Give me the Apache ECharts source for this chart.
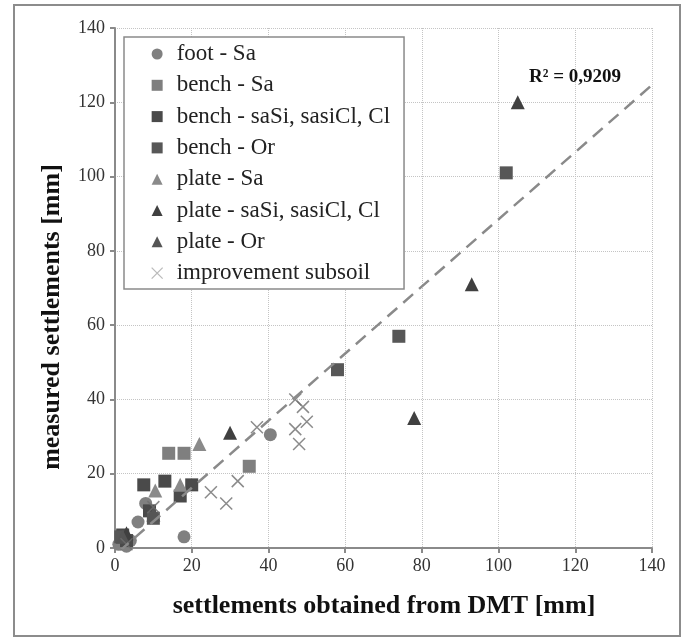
<!DOCTYPE html>
<html>
<head>
<meta charset="utf-8">
<script src="https://cdn.jsdelivr.net/npm/echarts@6/dist/echarts.min.js"></script>
<style>
html,body{margin:0;padding:0;background:#fff;}
#chart{width:684px;height:639px;}
</style>
</head>
<body>
<div id="chart"></div>
<script>
// ---- data ----
const footSa = [[1,1],[2,2.5],[4,2],[6,7],[8,12],[18,3],[40.5,30.5],[3,0.5]];
const benchSa = [[14,25.5],[18,25.5],[35,22],[2,3]];
const benchSaSi = [[7.5,17],[13,18],[17,14],[9,10],[20,17],[2,3.5],[3,2]];
const benchOr = [[58,48],[74,57],[102,101],[10,8],[1.5,3]];
const plateSa = [[22,28],[10.5,15.5],[17,17]];
const plateSaSi = [[30,31],[105,120],[93,71],[78,35],[3,4]];
const plateOr = [[2,3],[10,9]];
const improvement = [[47,40],[49,38],[50,34],[47,32],[48,28],[37,32.5],[32,18],[25,15],[29,12],[10,11],[3,1]];
const trendSlope = 0.904;
const trendIntercept = -1.9;
const trendRange = [1, 140];
const r2Label = 'R² = 0,9209';
const xTitle = 'settlements obtained from DMT [mm]';
const yTitle = 'measured settlements [mm]';
const axisMin = 0, axisMax = 140, axisStep = 20;

const trendData = trendRange.map(x => [x, trendSlope * x + trendIntercept]);
const crossPath = 'path://M0,0L10,10M10,0L0,10';
const serif = '"Liberation Serif", "Times New Roman", serif';

const chart = echarts.init(document.getElementById('chart'));
function sc(name, data, symbol, color, size) {
  return {
    name, type: 'scatter', data, symbol, symbolSize: size,
    itemStyle: { color: color, opacity: 1 }, z: 3
  };
}
chart.setOption({
  animation: false,
  backgroundColor: '#fff',
  grid: { left: 115, right: 32, top: 28, bottom: 91, containLabel: false },
  xAxis: {
    type: 'value', min: axisMin, max: axisMax, interval: axisStep,
    axisLine: { show: true, lineStyle: { color: '#8a8a8a', width: 2 } },
    axisTick: { show: true, length: 5, lineStyle: { color: '#8a8a8a', width: 2 } },
    axisLabel: { color: '#333', fontFamily: serif, fontSize: 18, margin: 9 },
    splitLine: { show: true, lineStyle: { color: '#c4c4c4', type: 'dotted', width: 1 } }
  },
  yAxis: {
    type: 'value', min: axisMin, max: axisMax, interval: axisStep,
    axisLine: { show: true, lineStyle: { color: '#8a8a8a', width: 2 } },
    axisTick: { show: true, length: 5, lineStyle: { color: '#8a8a8a', width: 2 } },
    axisLabel: { color: '#333', fontFamily: serif, fontSize: 18, margin: 10 },
    splitLine: { show: true, lineStyle: { color: '#c4c4c4', type: 'dotted', width: 1 } }
  },
  legend: {
    orient: 'vertical', left: 124, top: 37,
    backgroundColor: '#fff',
    borderColor: '#8a8a8a', borderWidth: 1.5,
    padding: [5, 14, 4, 27],
    itemWidth: 11, itemHeight: 11, itemGap: 7.3,
    textStyle: { fontFamily: serif, fontSize: 23, color: '#222', lineHeight: 24, padding: [0, 0, 0, 9] },
    data: [
      'foot - Sa', 'bench - Sa', 'bench - saSi, sasiCl, Cl', 'bench - Or',
      'plate - Sa', 'plate - saSi, sasiCl, Cl', 'plate - Or',
      { name: 'improvement subsoil', itemStyle: { color: 'rgba(0,0,0,0)', borderColor: '#aaa', borderWidth: 1.3 } }
    ]
  },
  graphic: [
    { type: 'rect', shape: { x: 14, y: 5, width: 666, height: 631 }, style: { fill: 'none', stroke: '#8c8c8c', lineWidth: 2 }, z: 100 },
    { type: 'text', x: 575, y: 77, style: { text: r2Label, font: 'bold 19px ' + serif, fill: '#111', textAlign: 'center', textVerticalAlign: 'middle' }, z: 100 },
    { type: 'text', x: 384, y: 606, style: { text: xTitle, font: 'bold 26px ' + serif, fill: '#111', textAlign: 'center', textVerticalAlign: 'middle' }, z: 100 },
    { type: 'text', x: 52, y: 317, rotation: Math.PI / 2, style: { text: yTitle, font: 'bold 26px ' + serif, fill: '#111', textAlign: 'center', textVerticalAlign: 'middle' }, z: 100 }
  ],
  series: [
    sc('foot - Sa', footSa, 'circle', '#808080', 13),
    sc('bench - Sa', benchSa, 'rect', '#7f7f7f', 13),
    sc('bench - saSi, sasiCl, Cl', benchSaSi, 'rect', '#4a4a4a', 13),
    sc('bench - Or', benchOr, 'rect', '#575757', 13),
    sc('plate - Sa', plateSa, 'triangle', '#8a8a8a', 14),
    sc('plate - saSi, sasiCl, Cl', plateSaSi, 'triangle', '#404040', 14),
    sc('plate - Or', plateOr, 'triangle', '#555555', 14),
    {
      name: 'improvement subsoil', type: 'scatter', data: improvement,
      symbol: crossPath, symbolSize: 12,
      itemStyle: { color: 'rgba(0,0,0,0)', borderColor: '#6e6e6e', borderWidth: 1.5 }, z: 4
    },
    {
      name: 'trend', type: 'line', data: trendData, showSymbol: false, symbol: 'none',
      lineStyle: { color: '#8a8a8a', width: 2.5, type: [13, 8] }, z: 5, silent: true
    }
  ]
});
</script>
</body>
</html>
